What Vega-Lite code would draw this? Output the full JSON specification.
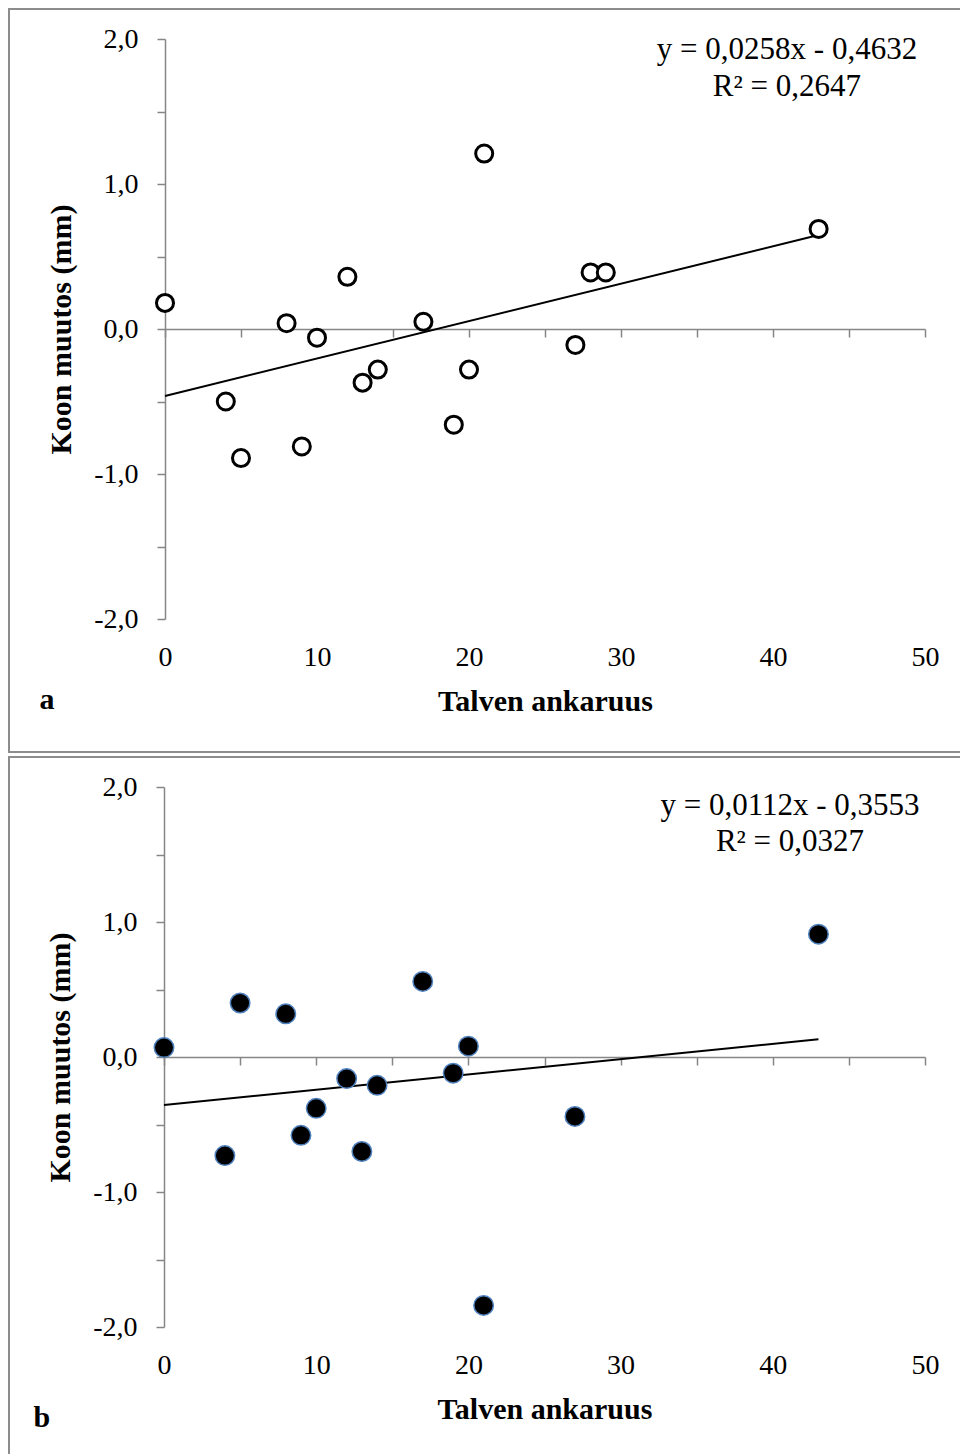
{
  "$schema": "https://vega.github.io/schema/vega-lite/v6.json",
  "padding": {"left": 8, "top": 8, "right": 0, "bottom": 0},
  "autosize": {"type": "pad"},
  "background": "white",
  "spacing": 3,
  "config": {
    "view": {"stroke": "#8c8c8c", "strokeWidth": 2},
    "font": "Liberation Serif",
    "axis": {
      "labelFont": "Liberation Serif",
      "titleFont": "Liberation Serif",
      "labelColor": "black",
      "titleColor": "black",
      "domainColor": "#868686",
      "tickColor": "#868686",
      "domainWidth": 1.5,
      "tickWidth": 1.5,
      "grid": false,
      "labelFontSize": 28,
      "titleFontSize": 30,
      "titleFontWeight": "bold",
      "labelOverlap": false,
      "labelFlush": false
    }
  },
  "datasets": {
    "a": [
      {"x": 0, "y": 0.18}, {"x": 4, "y": -0.50}, {"x": 5, "y": -0.89}, {"x": 8, "y": 0.04},
      {"x": 9, "y": -0.81}, {"x": 10, "y": -0.06}, {"x": 12, "y": 0.36}, {"x": 13, "y": -0.37},
      {"x": 14, "y": -0.28}, {"x": 17, "y": 0.05}, {"x": 19, "y": -0.66}, {"x": 20, "y": -0.28},
      {"x": 21, "y": 1.21}, {"x": 27, "y": -0.11}, {"x": 28, "y": 0.39}, {"x": 29, "y": 0.39},
      {"x": 43, "y": 0.69}
    ],
    "b": [
      {"x": 0, "y": 0.07}, {"x": 4, "y": -0.73}, {"x": 5, "y": 0.40}, {"x": 8, "y": 0.32},
      {"x": 9, "y": -0.58}, {"x": 10, "y": -0.38}, {"x": 12, "y": -0.16}, {"x": 13, "y": -0.70},
      {"x": 14, "y": -0.21}, {"x": 17, "y": 0.56}, {"x": 19, "y": -0.12}, {"x": 20, "y": 0.08},
      {"x": 21, "y": -1.84}, {"x": 27, "y": -0.44}, {"x": 43, "y": 0.91}
    ]
  },
  "vconcat": [
    {
      "width": 953,
      "height": 743,
      "data": {"name": "a"},
      "layer": [
        {
          "transform": [{"regression": "y", "on": "x"}],
          "mark": {"type": "line", "color": "black", "strokeWidth": 2},
          "encoding": {
            "x": {"field": "x", "type": "quantitative",
              "scale": {"domain": [0, 50], "range": [156, 916], "nice": false, "zero": false},
              "axis": {"orient": "bottom", "offset": -423, "values": [0, 5, 10, 15, 20, 25, 30, 35, 40, 45, 50], "labels": false, "title": null, "domain": true, "ticks": true, "tickSize": 8}},
            "y": {"field": "y", "type": "quantitative",
              "scale": {"domain": [-2, 2], "range": [610, 30], "nice": false, "zero": false},
              "axis": {"orient": "left", "offset": -156, "values": [-2, -1.5, -1, -0.5, 0, 0.5, 1, 1.5, 2],
                "labelExpr": "datum.value % 1 === 0 ? (datum.value < 0 ? '-' : '') + abs(datum.value) + ',0' : ''",
                "tickSize": 8, "labelPadding": 19, "title": "Koon muutos (mm)", "titlePadding": 17}}
          }
        },
        {
          "mark": {"type": "circle", "fill": "white", "stroke": "black", "strokeWidth": 3, "size": 290, "opacity": 1},
          "encoding": {
            "x": {"field": "x", "type": "quantitative",
              "axis": {"orient": "bottom", "offset": -133, "values": [0, 10, 20, 30, 40, 50], "domain": false, "ticks": false, "tickSize": 0, "labelPadding": 24, "title": "Talven ankaruus", "titlePadding": 15, "format": "d"}},
            "y": {"field": "y", "type": "quantitative"}
          }
        },
        {
          "data": {"values": [{"label": "y = 0,0258x - 0,4632"}]},
          "mark": {"type": "text", "font": "Liberation Serif", "fontSize": 31, "fontWeight": "normal", "align": "center", "baseline": "alphabetic", "lineHeight": 37, "color": "black"},
          "encoding": {
            "text": {"value": ["y = 0,0258x - 0,4632", "R² = 0,2647"]},
            "x": {"datum": 40.92, "type": "quantitative", "axis": null},
            "y": {"datum": 1.86, "type": "quantitative"}
          }
        },
        {
          "data": {"values": [{"panel": "a"}]},
          "mark": {"type": "text", "font": "Liberation Serif", "fontSize": 30, "fontWeight": "bold", "align": "center", "baseline": "middle", "color": "black"},
          "encoding": {
            "text": {"field": "panel"},
            "x": {"datum": -7.76, "type": "quantitative", "axis": null},
            "y": {"datum": -2.56, "type": "quantitative"}
          }
        }
      ],
      "resolve": {"axis": {"x": "independent"}}
    },
    {
      "width": 953,
      "height": 701,
      "data": {"name": "b"},
      "layer": [
        {
          "transform": [{"regression": "y", "on": "x"}],
          "mark": {"type": "line", "color": "black", "strokeWidth": 2},
          "encoding": {
            "x": {"field": "x", "type": "quantitative",
              "scale": {"domain": [0, 50], "range": [155, 916], "nice": false, "zero": false},
              "axis": {"orient": "bottom", "offset": -401, "values": [0, 5, 10, 15, 20, 25, 30, 35, 40, 45, 50], "labels": false, "title": null, "domain": true, "ticks": true, "tickSize": 8}},
            "y": {"field": "y", "type": "quantitative",
              "scale": {"domain": [-2, 2], "range": [570, 30], "nice": false, "zero": false},
              "axis": {"orient": "left", "offset": -155, "values": [-2, -1.5, -1, -0.5, 0, 0.5, 1, 1.5, 2],
                "labelExpr": "datum.value % 1 === 0 ? (datum.value < 0 ? '-' : '') + abs(datum.value) + ',0' : ''",
                "tickSize": 8, "labelPadding": 19, "title": "Koon muutos (mm)", "titlePadding": 17}}
          }
        },
        {
          "mark": {"type": "circle", "fill": "black", "stroke": "#4f81bd", "strokeWidth": 1.5, "size": 380, "opacity": 1},
          "encoding": {
            "x": {"field": "x", "type": "quantitative",
              "axis": {"orient": "bottom", "offset": -131, "values": [0, 10, 20, 30, 40, 50], "domain": false, "ticks": false, "tickSize": 0, "labelPadding": 24, "title": "Talven ankaruus", "titlePadding": 15, "format": "d"}},
            "y": {"field": "y", "type": "quantitative"}
          }
        },
        {
          "data": {"values": [{"label": "y = 0,0112x - 0,3553"}]},
          "mark": {"type": "text", "font": "Liberation Serif", "fontSize": 31, "fontWeight": "normal", "align": "center", "baseline": "alphabetic", "lineHeight": 36, "color": "black"},
          "encoding": {
            "text": {"value": ["y = 0,0112x - 0,3553", "R² = 0,0327"]},
            "x": {"datum": 41.13, "type": "quantitative", "axis": null},
            "y": {"datum": 1.79, "type": "quantitative"}
          }
        },
        {
          "data": {"values": [{"panel": "b"}]},
          "mark": {"type": "text", "font": "Liberation Serif", "fontSize": 30, "fontWeight": "bold", "align": "center", "baseline": "middle", "color": "black"},
          "encoding": {
            "text": {"field": "panel"},
            "x": {"datum": -8.02, "type": "quantitative", "axis": null},
            "y": {"datum": -2.674, "type": "quantitative"}
          }
        }
      ],
      "resolve": {"axis": {"x": "independent"}}
    }
  ]
}
